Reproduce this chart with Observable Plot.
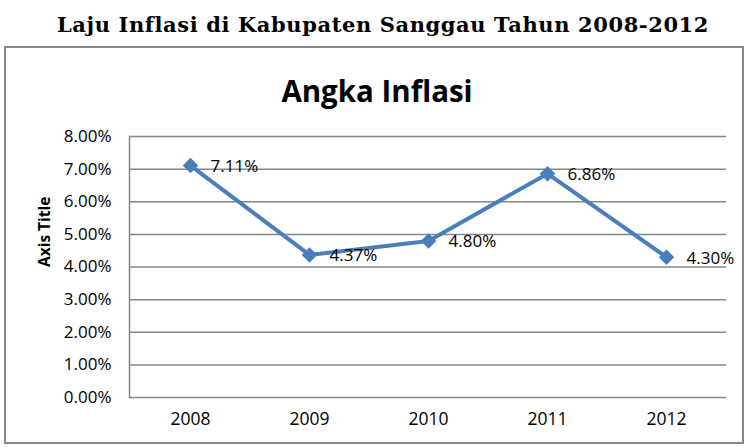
<!DOCTYPE html>
<html>
<head>
<meta charset="utf-8">
<script src="https://cdn.jsdelivr.net/npm/d3@7"></script>
<script src="https://cdn.jsdelivr.net/npm/@observablehq/plot@0.6"></script>
<style>
  html, body { margin: 0; padding: 0; background: #fff; }
  #page { position: relative; width: 749px; height: 448px; overflow: hidden; background: #fff; }
  #mainTitle { position: absolute; top: 14px; left: 383px; transform: translateX(-50%); white-space: nowrap;
    font-family: "DejaVu Serif", serif; font-weight: bold; font-size: 21px; line-height: 21px; letter-spacing: 0.6px; color: #000; }
  #box { position: absolute; left: 4px; top: 46px; width: 736px; height: 394px; border: 2px solid #878787; background: #fff; }
  #chartTitle { position: absolute; top: 76px; left: 377px; transform: translateX(-50%); white-space: nowrap;
    font-family: "Open Sans", sans-serif; font-weight: bold; font-size: 29.5px; line-height: 29.5px; color: #000; }
  #chart { position: absolute; left: 6px; top: 48px; }
</style>
</head>
<body>
<div id="page">
  <div id="mainTitle">Laju Inflasi di Kabupaten Sanggau Tahun 2008-2012</div>
  <div id="box"></div>
  <div id="chart"></div>
  <div id="chartTitle">Angka Inflasi</div>
</div>
<script>
const years = ["2008", "2009", "2010", "2011", "2012"];
const inflation = [0.0711, 0.0437, 0.0480, 0.0686, 0.0430];
const valueLabels = ["7.11%", "4.37%", "4.80%", "6.86%", "4.30%"];
const yTicks = [0, 0.01, 0.02, 0.03, 0.04, 0.05, 0.06, 0.07, 0.08];
const axisTitle = "Axis Title";

const data = years.map((year, i) => ({ year, value: inflation[i], label: valueLabels[i] }));

const chart = Plot.plot({
  width: 736,
  height: 394,
  marginLeft: 123,
  marginRight: 16,
  marginTop: 88,
  marginBottom: 45,
  style: { fontFamily: "Open Sans, sans-serif", fontSize: "16px", color: "#000", background: "transparent" },
  x: { type: "point", domain: years, padding: 0.5, label: null },
  y: { domain: [0, 0.08], label: null },
  marks: [
    Plot.gridY(yTicks, { stroke: "#868686", strokeOpacity: 1, strokeWidth: 1.5 }),
    Plot.frame({ anchor: "left", stroke: "#868686", strokeWidth: 1.5 }),
    Plot.axisY(yTicks, { tickSize: 0, tickPadding: 18, tickFormat: d3.format(".2%"), fontSize: 17, label: null }),
    Plot.axisX({ tickSize: 0, tickPadding: 15, fontSize: 17.5, label: null }),
    Plot.lineY(data, { x: "year", y: "value", stroke: "#4A7EBB", strokeWidth: 4 }),
    Plot.dot(data, { x: "year", y: "value", symbol: "diamond2", r: 7, fill: "#4A7EBB", stroke: "none" }),
    Plot.text(data, { x: "year", y: "value", text: "label", dx: 20, dy: 1, textAnchor: "start", fontSize: 17, fill: "#000" }),
    Plot.text([axisTitle], { frameAnchor: "left", rotate: -90, dx: -84, fontWeight: "bold", fontSize: 15.5, fill: "#000" })
  ]
});
document.getElementById("chart").appendChild(chart);
</script>
</body>
</html>
